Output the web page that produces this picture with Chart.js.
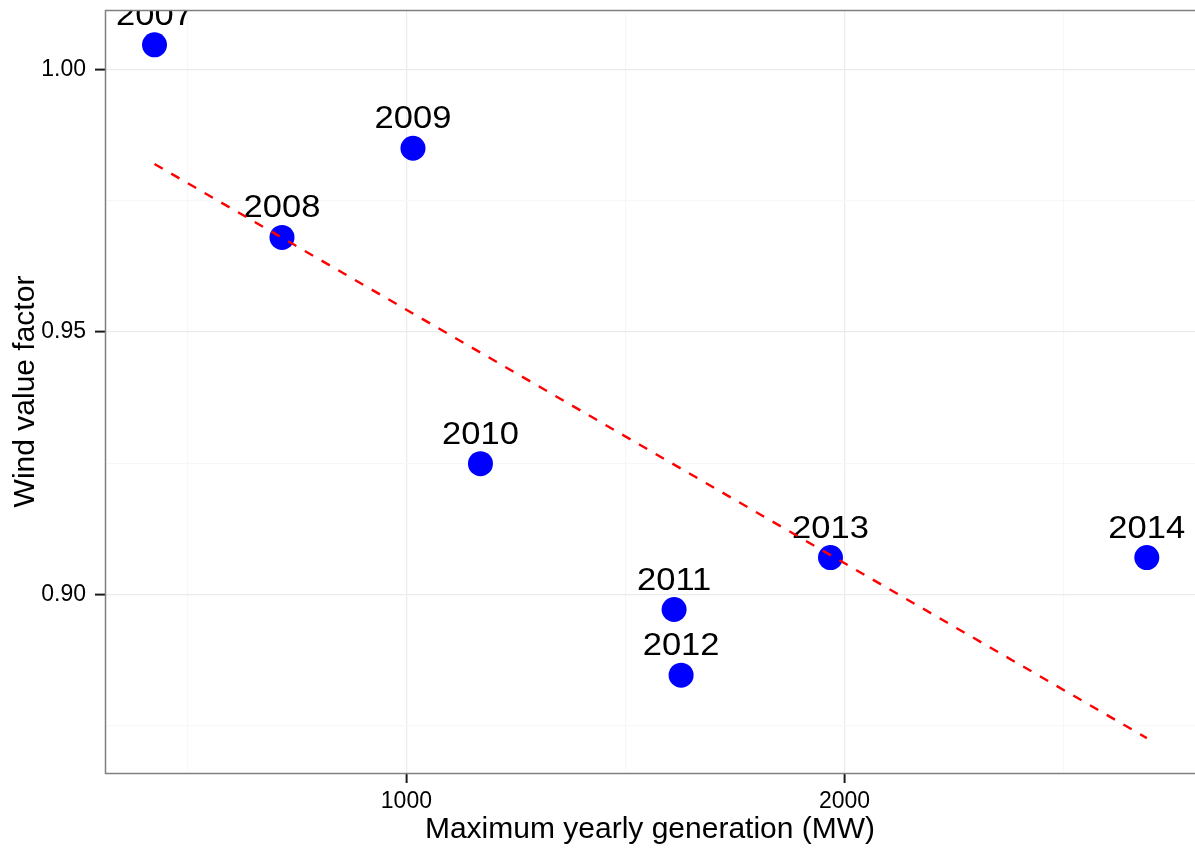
<!DOCTYPE html>
<html>
<head>
<meta charset="utf-8">
<script src="https://cdn.jsdelivr.net/npm/chart.js@4/dist/chart.umd.min.js"></script>
<style>
  html, body { margin: 0; padding: 0; background: #ffffff; }
  #wrap { width: 1195px; height: 850px; }
</style>
</head>
<body>
<div id="wrap"><canvas id="chart" width="1195" height="850"></canvas></div>
<script>
// Yearly peak wind generation against the wind value factor
const years = ['2007', '2008', '2009', '2010', '2011', '2012', '2013', '2014'];
const maxGeneration = [425, 716, 1015, 1169, 1611, 1627, 1968, 2690];
const valueFactor = [1.0047, 0.9680, 0.9850, 0.9249, 0.8971, 0.8846, 0.9070, 0.9070];

// Fitted linear trend, end points
const trendGeneration = [425, 2690];
const trendFactor = [0.9820, 0.8726];

// Axis ticks
const xMajorTicks = [1000, 2000];
const xMinorTicks = [500, 1500, 2500];
const yMajorTicks = [0.90, 0.95, 1.00];
const yMinorTicks = [0.875, 0.925, 0.975];

const FONT = "'Liberation Sans', Arial, Helvetica, sans-serif";

const points = years.map((y, i) => ({ x: maxGeneration[i], y: valueFactor[i], year: y }));
const trend = trendGeneration.map((x, i) => ({ x: x, y: trendFactor[i] }));

function isMajor(list, v) {
  return list.some(t => Math.abs(t - v) < 1e-9);
}

function noEdgePadding(scale) {
  scale.paddingTop = 0;
  scale.paddingBottom = 0;
  scale.paddingLeft = 0;
  scale.paddingRight = 0;
}

// Year labels above each point, clipped to the panel
const yearLabels = {
  id: 'yearLabels',
  beforeDatasetsDraw(chart) {
    const { ctx, chartArea } = chart;
    const meta = chart.getDatasetMeta(0);
    ctx.save();
    ctx.beginPath();
    ctx.rect(chartArea.left, chartArea.top, chartArea.right - chartArea.left, chartArea.bottom - chartArea.top);
    ctx.clip();
    ctx.font = '32px ' + FONT;
    ctx.fillStyle = '#000000';
    ctx.textAlign = 'center';
    ctx.textBaseline = 'alphabetic';
    meta.data.forEach((el, i) => {
      ctx.save();
      ctx.translate(el.x, el.y - 20);
      ctx.scale(1.08, 1);
      ctx.fillText(points[i].year, 0, 0);
      ctx.restore();
    });
    ctx.restore();
  }
};

// Panel border drawn on top of everything
const panelBorder = {
  id: 'panelBorder',
  afterDraw(chart) {
    const { ctx, chartArea } = chart;
    ctx.save();
    ctx.strokeStyle = '#808080';
    ctx.lineWidth = 1.5;
    ctx.strokeRect(chartArea.left + 0.5, chartArea.top + 0.5,
      chartArea.right - chartArea.left + 2, chartArea.bottom - chartArea.top);
    ctx.restore();
  }
};

new Chart(document.getElementById('chart'), {
  data: {
    datasets: [
      {
        type: 'scatter',
        label: 'Wind value factor',
        data: points,
        backgroundColor: '#0000ff',
        borderWidth: 0,
        pointRadius: 12.5,
        pointHoverRadius: 12.5,
        order: 2
      },
      {
        type: 'line',
        label: 'Trend',
        data: trend,
        borderColor: '#ff0000',
        borderWidth: 2.4,
        borderDash: [9.5, 9.8],
        pointRadius: 0,
        fill: false,
        order: 1
      }
    ]
  },
  options: {
    responsive: false,
    animation: false,
    devicePixelRatio: 1,
    layout: { autoPadding: false, padding: { top: 10, right: 0, bottom: 0, left: 0 } },
    plugins: {
      legend: { display: false },
      tooltip: { enabled: false }
    },
    scales: {
      x: {
        type: 'linear',
        position: 'bottom',
        min: 312,
        max: 2800,
        afterBuildTicks(scale) {
          scale.ticks = xMinorTicks.concat(xMajorTicks).sort((a, b) => a - b).map(v => ({ value: v }));
        },
        afterFit(scale) { scale.height = 77; noEdgePadding(scale); },
        border: { display: false },
        grid: {
          color: ctx => isMajor(xMajorTicks, ctx.tick.value) ? '#ebebeb' : '#f7f7f7',
          lineWidth: 1.2,
          tickColor: ctx => isMajor(xMajorTicks, ctx.tick.value) ? '#1a1a1a' : 'rgba(0,0,0,0)',
          tickWidth: 2,
          tickLength: 10,
          drawTicks: true
        },
        ticks: {
          autoSkip: false,
          maxRotation: 0,
          padding: 5,
          color: '#000000',
          font: { family: FONT, size: 23 },
          callback: v => isMajor(xMajorTicks, v) ? String(v) : ''
        },
        title: {
          display: true,
          text: 'Maximum yearly generation (MW)',
          color: '#000000',
          font: { family: FONT, size: 30 },
          padding: { top: 0, bottom: 2 }
        }
      },
      y: {
        type: 'linear',
        position: 'left',
        min: 0.86595,
        max: 1.01134,
        afterBuildTicks(scale) {
          scale.ticks = yMinorTicks.concat(yMajorTicks).sort((a, b) => a - b).map(v => ({ value: v }));
        },
        afterFit(scale) { scale.width = 105; noEdgePadding(scale); },
        border: { display: false },
        grid: {
          color: ctx => isMajor(yMajorTicks, ctx.tick.value) ? '#ebebeb' : '#f7f7f7',
          lineWidth: 1.2,
          tickColor: ctx => isMajor(yMajorTicks, ctx.tick.value) ? '#1a1a1a' : 'rgba(0,0,0,0)',
          tickWidth: 2,
          tickLength: 10,
          drawTicks: true
        },
        ticks: {
          autoSkip: false,
          padding: 9,
          color: '#000000',
          font: { family: FONT, size: 23 },
          callback: v => isMajor(yMajorTicks, v) ? v.toFixed(2) : ''
        },
        title: {
          display: true,
          text: 'Wind value factor',
          color: '#000000',
          font: { family: FONT, size: 30 },
          padding: { top: 8, bottom: 0 }
        }
      }
    }
  },
  plugins: [yearLabels, panelBorder]
});
</script>
</body>
</html>
